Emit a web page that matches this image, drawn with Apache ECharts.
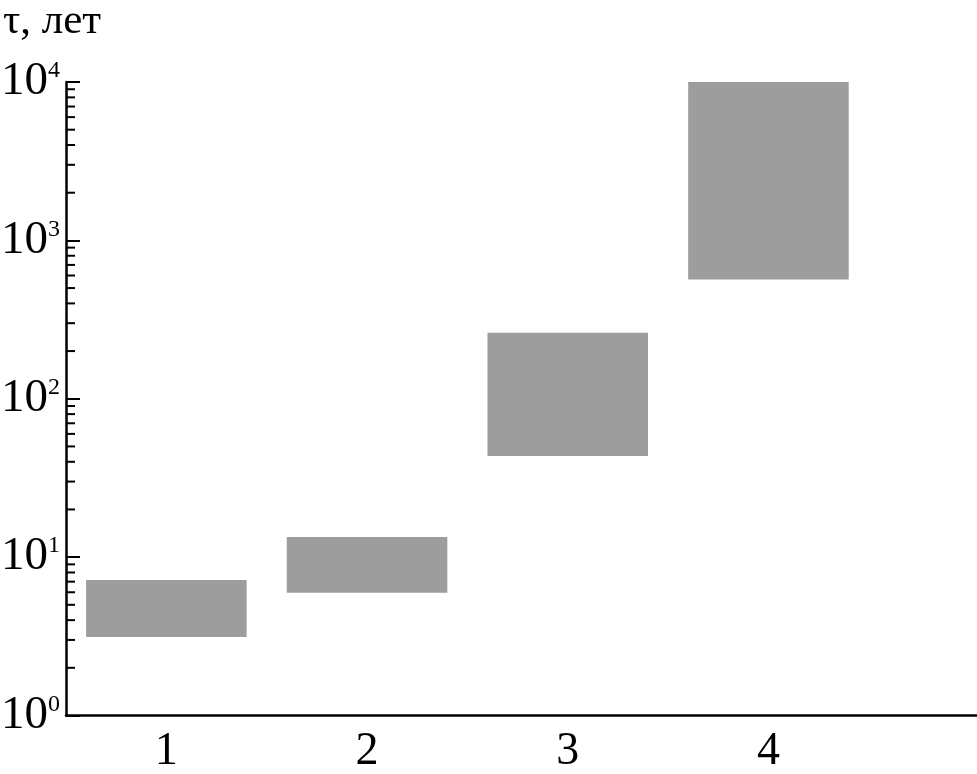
<!DOCTYPE html>
<html>
<head>
<meta charset="utf-8">
<script src="https://cdn.jsdelivr.net/npm/echarts@6/dist/echarts.min.js"></script>
<style>
  html, body { margin: 0; padding: 0; background: #fff; }
  #main { width: 977px; height: 774px; }
</style>
</head>
<body>
<div id="main"></div>
<script>
  // категории (пустая пятая — только чтобы ось уходила до края)
  var categories = ['1', '2', '3', '4', ''];
  // нижняя и верхняя граница τ, лет
  var lowValues = [3.13, 5.96, 43.5, 567];
  var highValues = [7.17, 13.4, 261, 10000];
  // подписи оси Y: 10^0 ... 10^4
  var yTickValues = [1, 10, 100, 1000, 10000];
  var minorTicks = [
    2, 3, 4, 5, 6, 7, 8, 9,
    20, 30, 40, 50, 60, 70, 80, 90,
    200, 300, 400, 500, 600, 700, 800, 900,
    2000, 3000, 4000, 5000, 6000, 7000, 8000, 9000
  ];

  var myChart = echarts.init(document.getElementById('main'));
  var font = '"Liberation Serif", "Times New Roman", serif';

  var rangeData = highValues.map(function (h, i) { return h - lowValues[i]; });

  var option = {
    backgroundColor: '#fff',
    animation: false,
    title: {
      text: 'τ, лет',
      left: 3,
      top: 0,
      padding: 0,
      textStyle: { fontFamily: font, fontSize: 43, fontWeight: 'normal', color: '#000' }
    },
    grid: {
      left: 66,
      right: -92.5,
      top: 82,
      bottom: 58.5,
      outerBoundsMode: 'none',
      containLabel: false
    },
    xAxis: {
      type: 'category',
      data: categories,
      boundaryGap: true,
      axisLine: { lineStyle: { color: '#000', width: 2.5 } },
      axisTick: { inside: true, length: 13, lineStyle: { color: '#000', width: 2 } },
      axisLabel: { fontFamily: font, fontSize: 46, color: '#000', margin: 13 },
      splitLine: { show: false }
    },
    yAxis: {
      type: 'log',
      logBase: 10,
      min: 1,
      max: 10000,
      axisLine: { show: true, lineStyle: { color: '#000', width: 2.5 } },
      axisTick: { show: true, inside: true, length: 14, lineStyle: { color: '#000', width: 2 } },
      splitLine: { show: false },
      axisLabel: {
        margin: 6,
        color: '#000',
        formatter: function (v) {
          var e = Math.round(Math.log10(v));
          if (yTickValues.indexOf(Math.pow(10, e)) < 0) return '';
          return '{b|10}{s|' + e + '}';
        },
        rich: {
          b: { fontFamily: font, fontSize: 47, color: '#000' },
          s: { fontFamily: font, fontSize: 24, color: '#000', padding: [0, 0, 22, 0] }
        }
      }
    },
    series: [
      {
        name: 'base',
        type: 'bar',
        stack: 'tau',
        data: lowValues,
        barWidth: '80%',
        itemStyle: { color: 'transparent' },
        silent: true
      },
      {
        name: 'range',
        type: 'bar',
        stack: 'tau',
        data: rangeData,
        barWidth: '80%',
        itemStyle: { color: '#9d9d9d' }
      },
      {
        // мелкие деления логарифмической оси
        name: 'minor',
        type: 'custom',
        silent: true,
        clip: false,
        data: minorTicks.map(function (v) { return [0, v]; }),
        renderItem: function (params, api) {
          var p = api.coord([0, api.value(1)]);
          var x0 = params.coordSys.x;
          return {
            type: 'line',
            shape: { x1: x0, y1: p[1], x2: x0 + 9, y2: p[1] },
            style: { stroke: '#000', lineWidth: 2 }
          };
        }
      }
    ]
  };

  myChart.setOption(option);
  window.addEventListener('resize', function () { myChart.resize(); });
</script>
</body>
</html>
